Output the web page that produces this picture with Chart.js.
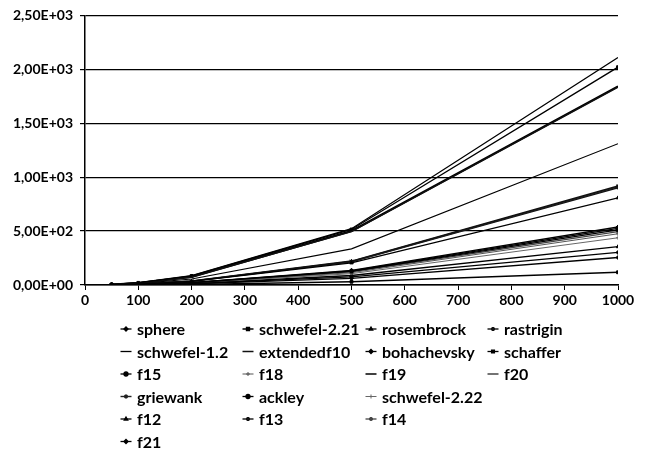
<!DOCTYPE html>
<html>
<head>
<meta charset="utf-8">
<script src="https://cdn.jsdelivr.net/npm/chart.js@4/dist/chart.umd.min.js"></script>
<style>
  html, body { margin: 0; padding: 0; background: #fff; }
  #wrap { width: 646px; height: 454px; position: relative; }
</style>
</head>
<body>
<div id="wrap"><canvas id="c" width="646" height="454"></canvas></div>
<script>
// Problem dimension (x axis)
const dims = [50, 100, 200, 500, 1000];

// Execution time per benchmark function
const sphere        = [1, 3, 12, 75, 302];
const schwefel221   = [0, 1, 5, 30, 118];
const rosembrock    = [2, 8, 33, 205, 808];
const rastrigin     = [2, 9, 37, 222, 918];
const schwefel12    = [5, 21, 87, 522, 2110];
const extendedf10   = [4, 18, 74, 495, 1835];
const bohachevsky   = [1, 6, 22, 135, 538];
const schaffer      = [5, 20, 84, 515, 2020];
const f15           = [1, 6, 21, 130, 525];
const f18           = [1, 5, 19, 115, 475];
const f19           = [4, 18, 76, 500, 1842];
const f20           = [3, 13, 55, 335, 1310];
const griewank      = [2, 9, 36, 218, 910];
const ackley        = [1, 5, 21, 127, 512];
const schwefel222   = [1, 4, 17, 105, 438];
const f12           = [1, 3, 14, 88, 355];
const f13           = [2, 9, 35, 215, 902];
const f14           = [1, 5, 20, 122, 495];
const f21           = [0, 2, 10, 62, 255];

const seriesNames = ['sphere', 'schwefel-2.21', 'rosembrock', 'rastrigin',
  'schwefel-1.2', 'extendedf10', 'bohachevsky', 'schaffer',
  'f15', 'f18', 'f19', 'f20',
  'griewank', 'ackley', 'schwefel-2.22',
  'f12', 'f13', 'f14',
  'f21'];
const seriesValues = [sphere, schwefel221, rosembrock, rastrigin,
  schwefel12, extendedf10, bohachevsky, schaffer,
  f15, f18, f19, f20,
  griewank, ackley, schwefel222,
  f12, f13, f14,
  f21];

// Axis tick values
const xTicks = [0, 100, 200, 300, 400, 500, 600, 700, 800, 900, 1000];
const yTicks = [0, 500, 1000, 1500, 2000, 2500];

// Line / marker appearance per series
const looks = {
  'sphere':        { marker: 'rectRot',  color: '#000', width: 1.3 },
  'schwefel-2.21': { marker: 'rect',     color: '#000', width: 1.5 },
  'rosembrock':    { marker: 'triangle', color: '#000', width: 1.3 },
  'rastrigin':     { marker: 'star',     color: '#111', width: 1.4 },
  'schwefel-1.2':  { marker: false,      color: '#000', width: 1.3 },
  'extendedf10':   { marker: false,      color: '#111', width: 1.5 },
  'bohachevsky':   { marker: 'rectRot',  color: '#000', width: 1.3 },
  'schaffer':      { marker: 'rect',     color: '#000', width: 1.3 },
  'f15':           { marker: 'circle',   color: '#000', width: 1.3 },
  'f18':           { marker: 'cross',    color: '#555', width: 1 },
  'f19':           { marker: false,      color: '#000', width: 2.2 },
  'f20':           { marker: false,      color: '#000', width: 1.1 },
  'griewank':      { marker: 'star',     color: '#222', width: 1.4 },
  'ackley':        { marker: 'circle',   color: '#000', width: 1.3 },
  'schwefel-2.22': { marker: 'cross',    color: '#666', width: 1 },
  'f12':           { marker: 'triangle', color: '#000', width: 1.3 },
  'f13':           { marker: 'star',     color: '#111', width: 1.4 },
  'f14':           { marker: 'star',     color: '#444', width: 1.3 },
  'f21':           { marker: 'rectRot',  color: '#000', width: 1.3 }
};

// Legend arranged in columns
const legendColumns = [
  ['sphere', 'schwefel-1.2', 'f15', 'griewank', 'f12', 'f21'],
  ['schwefel-2.21', 'extendedf10', 'f18', 'ackley', 'f13'],
  ['rosembrock', 'bohachevsky', 'f19', 'schwefel-2.22', 'f14'],
  ['rastrigin', 'schaffer', 'f20']
];

const FONT = 'Lato, "Open Sans", sans-serif';

function sciLabel(v) {
  const s = Number(v).toExponential(2);          // e.g. 2.50e+3
  const m = s.match(/^(-?[\d.]+)e([+-])(\d+)$/);
  const exp = m[3].padStart(2, '0');
  return m[1].replace('.', ',') + 'E' + m[2] + exp;
}

const datasets = seriesNames.map((name, i) => {
  const lk = looks[name];
  return {
    label: name,
    data: dims.map((d, j) => ({ x: d, y: seriesValues[i][j] })),
    borderColor: lk.color,
    backgroundColor: lk.color,
    borderWidth: lk.width,
    pointStyle: lk.marker || 'circle',
    pointRadius: lk.marker ? 2 : 0,
    pointBorderWidth: 1,
    tension: 0
  };
});

const legendPlugin = {
  id: 'columnLegend',
  afterDraw(chart) {
    const ctx = chart.ctx;
    const colX = [126, 248, 371, 493];
    const rowY = [329, 351.5, 374, 396.5, 419, 441.5];
    ctx.save();
    ctx.font = 'bold 16px ' + FONT;
    ctx.textBaseline = 'middle';
    ctx.textAlign = 'left';
    legendColumns.forEach((col, c) => {
      col.forEach((name, r) => {
        const lk = looks[name];
        const x = colX[c], y = rowY[r];
        ctx.strokeStyle = lk.color;
        ctx.fillStyle = lk.color;
        ctx.lineWidth = Math.min(lk.width, 1.5);
        ctx.beginPath();
        ctx.moveTo(x - 5.5, y);
        ctx.lineTo(x + 5.5, y);
        ctx.stroke();
        if (lk.marker && Chart.helpers && Chart.helpers.drawPoint) {
          Chart.helpers.drawPoint(ctx, {
            pointStyle: lk.marker, rotation: 0, radius: 2, borderWidth: 1
          }, x, y);
        }
        ctx.fillStyle = '#000';
        ctx.fillText(name, x + 11, y + 1);
      });
    });
    ctx.restore();
  }
};

new Chart(document.getElementById('c'), {
  type: 'line',
  data: { datasets },
  plugins: [legendPlugin],
  options: {
    responsive: false,
    animation: false,
    devicePixelRatio: 1,
    layout: { padding: { top: 9, right: 28, bottom: 147, left: 0 } },
    plugins: { legend: { display: false }, tooltip: { enabled: false } },
    scales: {
      x: {
        type: 'linear',
        min: 0, max: 1000,
        afterFit(s) { s.height = 22; },
        afterBuildTicks(s) { s.ticks = xTicks.map(v => ({ value: v })); },
        ticks: { color: '#000', font: { family: FONT, size: 14, weight: 'bold' }, padding: 2, maxRotation: 0, callback: v => String(v) },
        grid: { drawOnChartArea: false, drawTicks: true, tickLength: 5, color: '#000', lineWidth: 1 },
        border: { display: true, color: '#000', width: 1.5 }
      },
      y: {
        type: 'linear',
        min: 0, max: 2500,
        afterFit(s) { s.width = 85; },
        afterBuildTicks(s) { s.ticks = yTicks.map(v => ({ value: v })); },
        ticks: { color: '#000', font: { family: FONT, size: 14, weight: 'bold' }, padding: 7, callback: v => sciLabel(v) },
        grid: { color: '#000', lineWidth: 1.2, tickLength: 5, tickColor: '#000' },
        border: { display: true, color: '#000', width: 1.5 }
      }
    }
  }
});
</script>
</body>
</html>
